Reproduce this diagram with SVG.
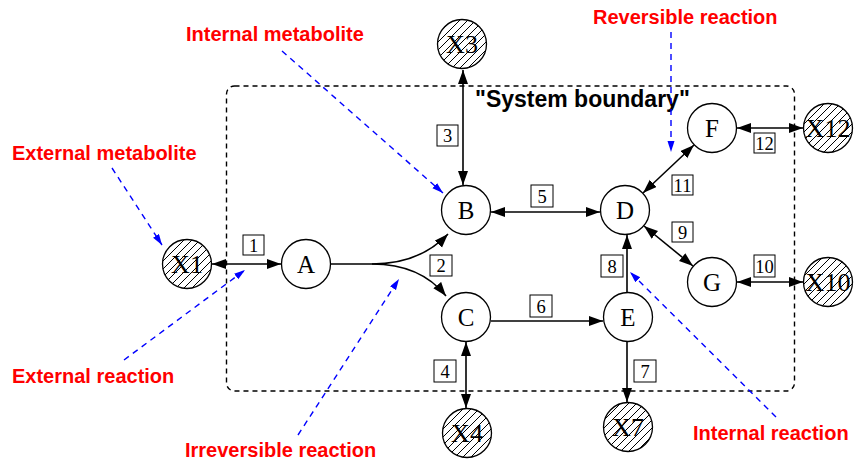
<svg xmlns="http://www.w3.org/2000/svg" width="854" height="463" viewBox="0 0 854 463">
<defs>
<marker id="ah" markerUnits="userSpaceOnUse" markerWidth="15" markerHeight="11" refX="14" refY="5" orient="auto-start-reverse"><path d="M0,0 L14,5 L0,10 z" fill="#000"/></marker>
<marker id="bh" markerUnits="userSpaceOnUse" markerWidth="12" markerHeight="8" refX="11" refY="3.5" orient="auto"><path d="M0,0 L11,3.5 L0,7 z" fill="#0000ff"/></marker>
<pattern id="hatch" patternUnits="userSpaceOnUse" width="8" height="8"><path d="M-2,2 L2,-2 M0,8 L8,0 M6,10 L10,6" stroke="#000" stroke-width="1"/></pattern>
<style>
.node circle{fill:#fff;stroke:#000;stroke-width:1.3}
.ext circle{fill:url(#hatch);stroke:#000;stroke-width:1.3}
.nl{font-family:"Liberation Serif",serif;font-size:25px;text-anchor:middle}
.xl{font-family:"Liberation Serif",serif;font-size:26px;text-anchor:middle}
.e{fill:none;stroke:#000;stroke-width:1.6}
.bi{marker-start:url(#ah);marker-end:url(#ah)}
.one{marker-end:url(#ah)}
.box rect{fill:#fff;stroke:#000;stroke-width:1}
.box text{font-family:"Liberation Serif",serif;font-size:18.5px;text-anchor:middle}
.ann{fill:none;stroke:#0000ff;stroke-width:1.4;stroke-dasharray:6,5;marker-end:url(#bh)}
.red{font-family:"Liberation Sans",Arial,sans-serif;font-weight:bold;font-size:20px;fill:#ff0000}
</style>
</defs>
<rect x="226.5" y="86" width="568" height="305" rx="8" fill="none" stroke="#000" stroke-width="1.4" stroke-dasharray="5,4"/>
<text x="475" y="107" font-family="Liberation Sans,Arial,sans-serif" font-weight="bold" font-size="23">"System boundary"</text>

<g id="connectors">
<line class="e bi" x1="212" y1="264" x2="281" y2="264"/>
<path class="e one" d="M330,264 L372,264 C405,264 430,253 448,234"/>
<path class="e one" d="M372,264 C405,264 430,276 446,296"/>
<line class="e bi" x1="463" y1="70" x2="463" y2="185"/>
<line class="e bi" x1="466" y1="342" x2="466" y2="408"/>
<line class="e bi" x1="491" y1="212" x2="600" y2="212"/>
<line class="e one" x1="491" y1="321" x2="603" y2="321"/>
<line class="e one" x1="627" y1="342" x2="627" y2="402"/>
<line class="e one" x1="627" y1="292" x2="627" y2="235"/>
<line class="e bi" x1="644" y1="226" x2="693" y2="266"/>
<line class="e bi" x1="643" y1="193" x2="694" y2="145"/>
<line class="e bi" x1="737" y1="128" x2="803" y2="128"/>
<line class="e bi" x1="737" y1="282" x2="803" y2="282"/>
</g>

<g id="labels">
<g class="box"><rect x="243" y="235" width="21" height="20"/><text x="253.5" y="251.5">1</text></g>
<g class="box"><rect x="430" y="255" width="22" height="21"/><text x="441" y="272">2</text></g>
<g class="box"><rect x="437" y="125" width="21" height="21"/><text x="447.5" y="142">3</text></g>
<g class="box"><rect x="434" y="360" width="22" height="22"/><text x="445" y="377.5">4</text></g>
<g class="box"><rect x="531" y="185" width="22" height="22"/><text x="542" y="202.5">5</text></g>
<g class="box"><rect x="530" y="295" width="22" height="22"/><text x="541" y="312.5">6</text></g>
<g class="box"><rect x="634" y="360" width="22" height="22"/><text x="645" y="377.5">7</text></g>
<g class="box"><rect x="601" y="255" width="22" height="22"/><text x="612" y="272.5">8</text></g>
<g class="box"><rect x="672" y="222" width="21" height="20"/><text x="682.5" y="238.5">9</text></g>
<g class="box"><rect x="754" y="255" width="21" height="22"/><text x="764.5" y="272.5">10</text></g>
<g class="box"><rect x="672" y="175" width="21" height="20"/><text x="682.5" y="191.5">11</text></g>
<g class="box"><rect x="754" y="133" width="21" height="20"/><text x="764.5" y="149.5">12</text></g>
</g>

<g id="A" class="node"><circle cx="306" cy="264" r="24.5"/><text class="nl" x="306" y="273">A</text></g>
<g id="B" class="node"><circle cx="466" cy="210" r="24.5"/><text class="nl" x="466" y="219">B</text></g>
<g id="C" class="node"><circle cx="466" cy="317" r="24.5"/><text class="nl" x="466" y="326">C</text></g>
<g id="D" class="node"><circle cx="625" cy="210" r="24.5"/><text class="nl" x="625" y="219">D</text></g>
<g id="E" class="node"><circle cx="628" cy="317" r="24.5"/><text class="nl" x="628" y="326">E</text></g>
<g id="F" class="node"><circle cx="712" cy="128" r="24.5"/><text class="nl" x="712" y="137">F</text></g>
<g id="G" class="node"><circle cx="712" cy="282" r="24.5"/><text class="nl" x="712" y="291">G</text></g>

<g id="X1" class="ext"><circle cx="187" cy="264" r="24.5"/><text class="xl" x="187" y="273">X1</text></g>
<g id="X3" class="ext"><circle cx="462" cy="44" r="24.5"/><text class="xl" x="462" y="53">X3</text></g>
<g id="X4" class="ext"><circle cx="467" cy="433" r="24.5"/><text class="xl" x="467" y="442">X4</text></g>
<g id="X7" class="ext"><circle cx="628" cy="427" r="24.5"/><text class="xl" x="628" y="436">X7</text></g>
<g id="X10" class="ext"><circle cx="828" cy="282" r="24.5"/><text class="xl" x="828" y="291">X10</text></g>
<g id="X12" class="ext"><circle cx="828" cy="128" r="24.5"/><text class="xl" x="828" y="137">X12</text></g>

<g id="annotations">
<path class="ann" d="M282,51 L443,193"/>
<path class="ann" d="M671,32 L671,152"/>
<path class="ann" d="M112,168 L162,245"/>
<path class="ann" d="M124,360 L245,270"/>
<path class="ann" d="M298,435 L399,279"/>
<path class="ann" d="M776,417 L630,272"/>
<text class="red" x="186" y="41">Internal metabolite</text>
<text class="red" x="593" y="24">Reversible reaction</text>
<text class="red" x="12" y="160">External metabolite</text>
<text class="red" x="12" y="383">External reaction</text>
<text class="red" x="185" y="457">Irreversible reaction</text>
<text class="red" x="693" y="440">Internal reaction</text>
</g>
</svg>
